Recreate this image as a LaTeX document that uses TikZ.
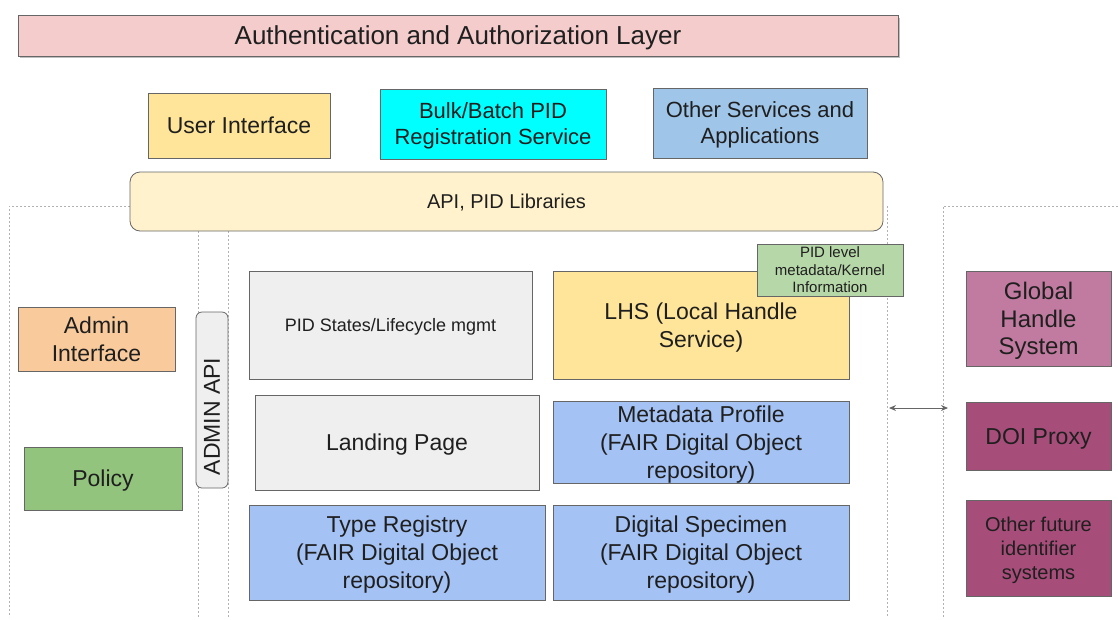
\documentclass[tikz,border=0pt]{standalone}
\usepackage{fontspec}
\setmainfont{Liberation Sans}
\usetikzlibrary{arrows.meta}

\definecolor{authpink}{HTML}{F4CCCC}
\definecolor{uiyellow}{HTML}{FFE599}
\definecolor{bulkcyan}{HTML}{00FFFF}
\definecolor{svcblue}{HTML}{9FC5E8}
\definecolor{apicream}{HTML}{FFF2CC}
\definecolor{adminorange}{HTML}{F9CB9C}
\definecolor{policygreen}{HTML}{93C47D}
\definecolor{panelgray}{HTML}{EFEFEF}
\definecolor{kernelgreen}{HTML}{B6D7A8}
\definecolor{fdoblue}{HTML}{A4C2F4}
\definecolor{handlepink}{HTML}{C27BA0}
\definecolor{doiplum}{HTML}{A64D79}

\newcommand{\fsz}[2]{\fontsize{#1}{#2}\selectfont}

\tikzset{
	blk/.style={draw=black!60, line width=0.8pt, fill=#1, align=center, inner sep=0pt,
		text depth=-3pt, text=black!88, font=\fsz{23}{28}},
	blk/.default=white,
	region/.style={draw=black!30, line width=0.8pt, dash pattern=on 2pt off 2pt},
}

\begin{document}
\begin{tikzpicture}[x=1pt, y=-1pt]
		\useasboundingbox (0,0) rectangle (1118,619);
		% dotted groupings
		\draw[region](130,206)--(9,206)--(9,617);
		\draw[region](198,231)--(198,617);
		\draw[region](228,231)--(228,617);
		\draw[region](887,206)--(887,617);
		\draw[region](1118,206)--(943,206)--(943,617);
		% top layer
		\fill[black!25](20,18)rectangle(900,58);
		\node[blk=authpink, minimum width=880pt, minimum height=41pt, font=\fsz{26}{30}](auth)at(458, 35.5){Authentication and Authorization Layer};
		\node[blk=uiyellow, minimum width=182pt, minimum height=65pt](ui)at(239, 125.5){User Interface};
		\node[blk=bulkcyan, minimum width=226pt, minimum height=70pt, font=\fsz{22}{26}](bulk)at(493, 124){Bulk/Batch PID\\Registration Service};
		\node[blk=svcblue, minimum width=214pt, minimum height=70pt, font=\fsz{22}{26}](other)at(760, 123){Other Services and\\Applications};
		\node[blk=apicream, rounded corners=10pt, minimum width=753pt, minimum height=59pt, font=\fsz{20}{24}](api)at(506.5, 201.5){API, PID Libraries};
		% admin side
		\node[blk=adminorange, minimum width=157pt, minimum height=64pt](admin)at(96.5, 339){Admin\\Interface};
		\node[blk=policygreen, minimum width=158pt, minimum height=63pt](policy)at(103, 478.5){Policy};
		\node[blk=panelgray, rotate=90, rounded corners=6pt, text depth=0pt, minimum width=176pt, minimum height=32pt](adminapi)at(212, 400){ADMIN API\hspace*{33pt}};
		% core services
		\node[blk=panelgray, minimum width=283pt, minimum height=108pt, font=\fsz{18}{22}](states)at(390.5, 325){PID States/Lifecycle mgmt};
		\node[blk=uiyellow, minimum width=296pt, minimum height=108pt](lhs)at(701, 325){LHS (Local Handle\\Service)};
		\node[blk=kernelgreen, minimum width=146pt, minimum height=52pt, font=\fsz{15}{17.5}](kernel)at(830, 270){PID level\\metadata/Kernel\\Information};
		\node[blk=panelgray, minimum width=284pt, minimum height=95pt](landing)at(397, 442.5){Landing Page};
		\node[blk=fdoblue, minimum width=296pt, minimum height=82pt](meta)at(701, 442){Metadata Profile\\(FAIR Digital Object\\repository)};
		\node[blk=fdoblue, minimum width=296pt, minimum height=95pt](types)at(397, 552.5){Type Registry\\(FAIR Digital Object\\repository)};
		\node[blk=fdoblue, minimum width=296pt, minimum height=95pt](specimen)at(701, 552.5){Digital Specimen\\(FAIR Digital Object\\repository)};
		% identifier systems
		\node[blk=handlepink, minimum width=145pt, minimum height=95pt, font=\fsz{24}{27.5}](ghs)at(1038.5, 318.5){Global\\Handle\\System};
		\node[blk=doiplum, minimum width=145pt, minimum height=68pt](doi)at(1038.5, 436){DOI Proxy};
		\node[blk=doiplum, minimum width=145pt, minimum height=96pt, font=\fsz{20}{24}](future)at(1038.5, 548){Other future\\identifier\\systems};
		\coordinate(linkL)at(889, 408);
		\coordinate(linkR)at(948, 408);
		\draw[black!60, line width=0.9pt, {Stealth[length=7pt, width=6pt]}-{Stealth[length=7pt, width=6pt]}](linkL)--(linkR);
	\end{tikzpicture}
\end{document}
